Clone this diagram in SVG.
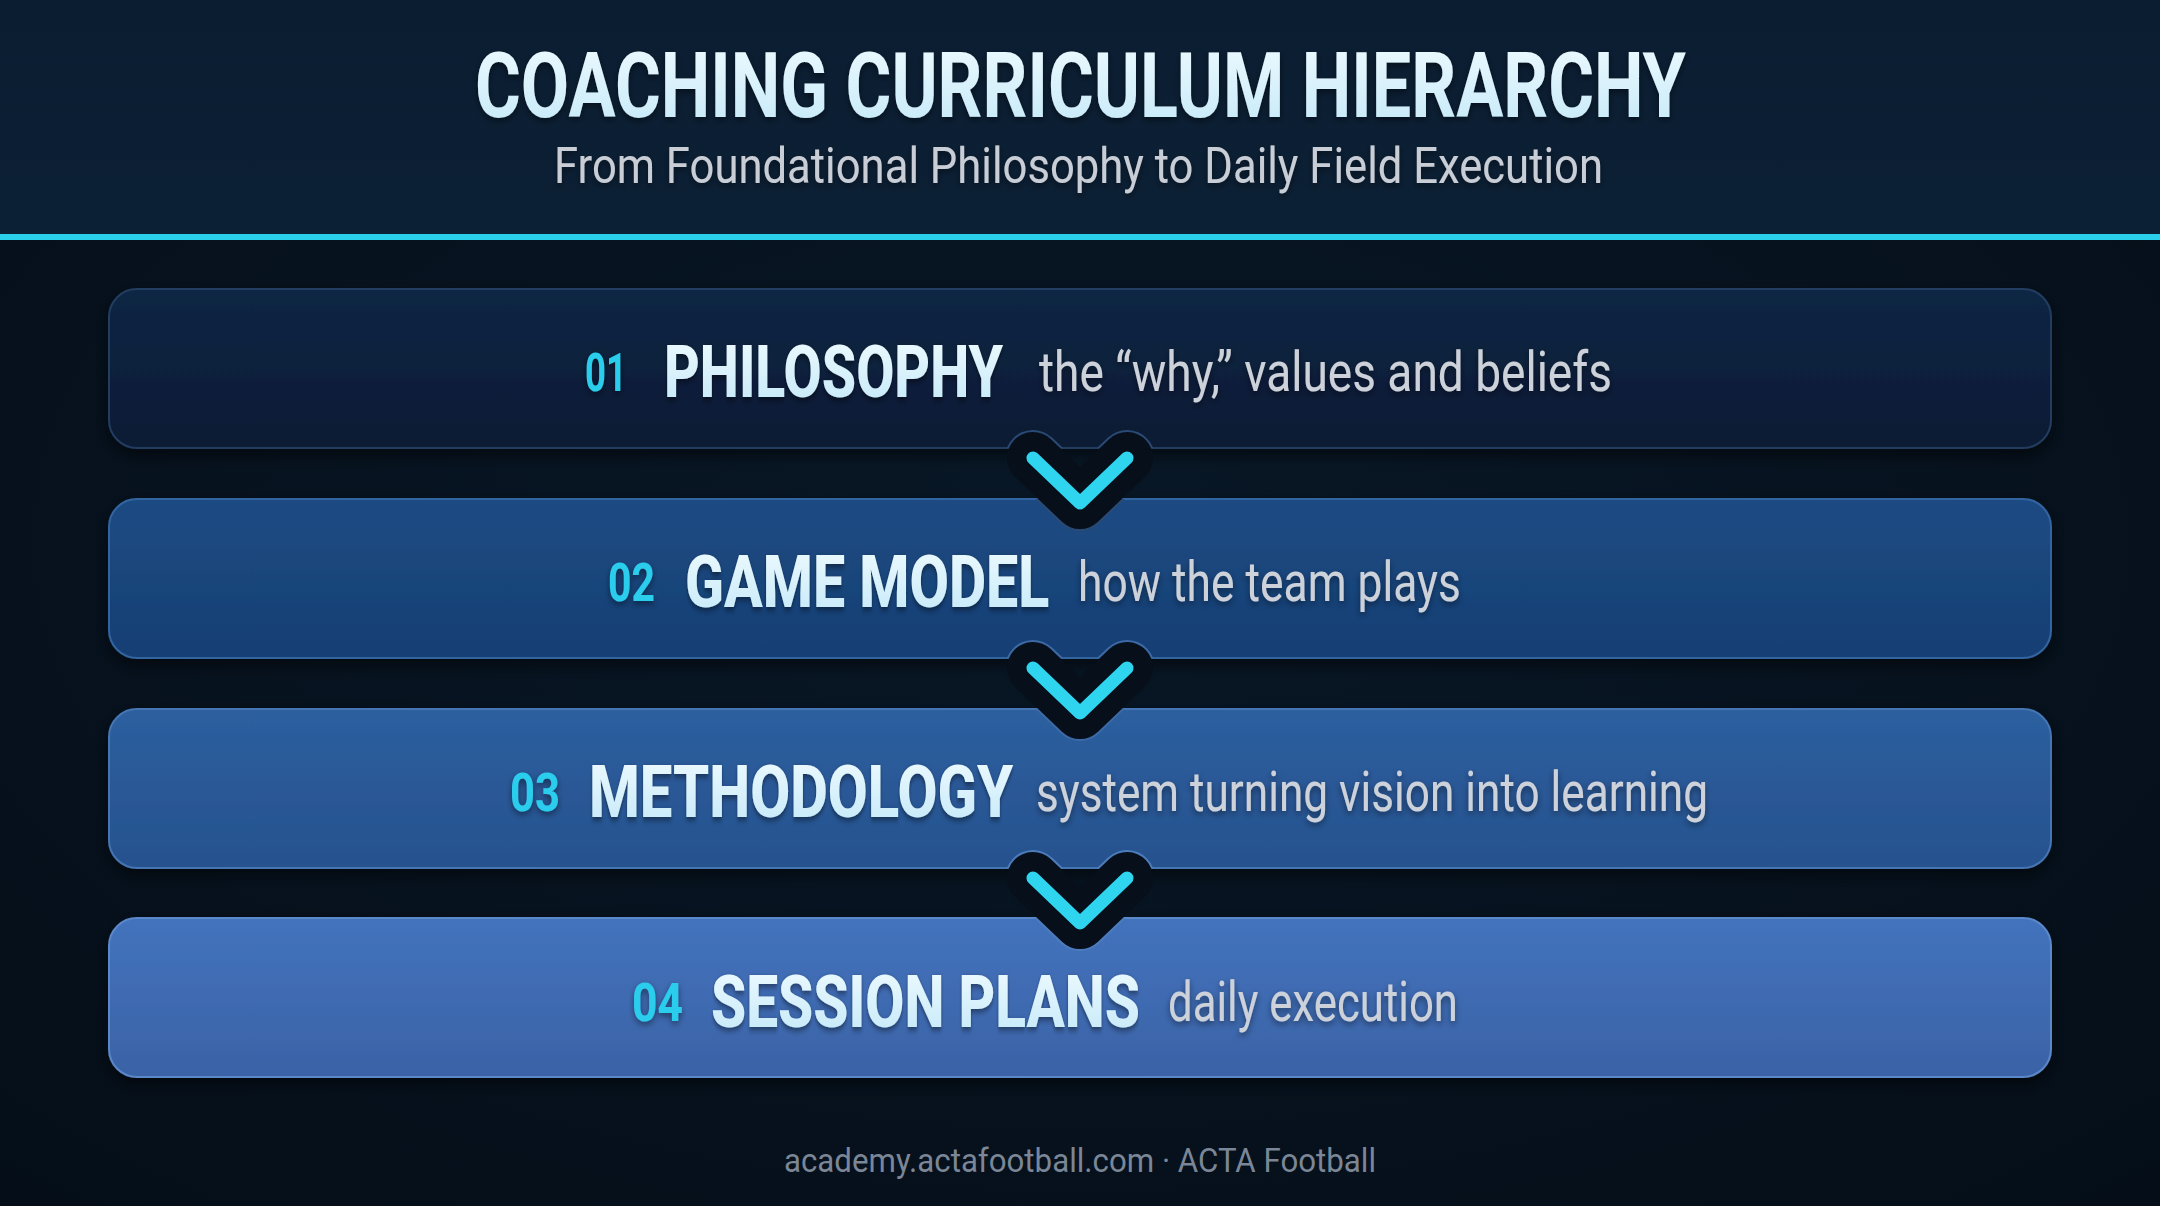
<svg xmlns="http://www.w3.org/2000/svg" width="2160" height="1206" viewBox="0 0 2160 1206">
  <defs>
    <linearGradient id="hdr" x1="0" y1="0" x2="0" y2="1">
      <stop offset="0" stop-color="#0b1d31"/>
      <stop offset="1" stop-color="#0c2035"/>
    </linearGradient>
    <radialGradient id="body" cx="0.5" cy="0.45" r="0.75">
      <stop offset="0" stop-color="#081726"/>
      <stop offset="1" stop-color="#050e18"/>
    </radialGradient>
    <linearGradient id="g1" x1="0" y1="0" x2="0" y2="1">
      <stop offset="0" stop-color="#0e2644"/>
      <stop offset="1" stop-color="#0b1a34"/>
    </linearGradient>
    <linearGradient id="g2" x1="0" y1="0" x2="0" y2="1">
      <stop offset="0" stop-color="#1c4b83"/>
      <stop offset="1" stop-color="#173f74"/>
    </linearGradient>
    <linearGradient id="g3" x1="0" y1="0" x2="0" y2="1">
      <stop offset="0" stop-color="#2d5f9f"/>
      <stop offset="1" stop-color="#26528e"/>
    </linearGradient>
    <linearGradient id="g4" x1="0" y1="0" x2="0" y2="1">
      <stop offset="0" stop-color="#4373bd"/>
      <stop offset="1" stop-color="#3a62a6"/>
    </linearGradient>
    <linearGradient id="lbl" x1="0" y1="0" x2="0" y2="1">
      <stop offset="0" stop-color="#f0fbff"/>
      <stop offset="1" stop-color="#c2e8f8"/>
    </linearGradient>
    <filter id="boxsh" x="-5%" y="-30%" width="110%" height="160%">
      <feDropShadow dx="0" dy="6" stdDeviation="8" flood-color="#000" flood-opacity="0.55"/>
    </filter>
    <filter id="txtsh" x="-5%" y="-30%" width="110%" height="160%">
      <feDropShadow dx="0" dy="3" stdDeviation="3" flood-color="#000" flood-opacity="0.45"/>
    </filter>
    <clipPath id="boxclip">
      <rect x="109" y="289" width="1942" height="159" rx="28"/>
      <rect x="109" y="499" width="1942" height="159" rx="28"/>
      <rect x="109" y="709" width="1942" height="159" rx="28"/>
      <rect x="109" y="918" width="1942" height="159" rx="28"/>
    </clipPath>
    <path id="chev" d="M1033,458 L1080,503 L1127,458"/>
  </defs>
  <style>
    text{font-family:Roboto,"Liberation Sans",sans-serif}
    .title{font-weight:700;font-size:91px;fill:url(#lbl)}
    .sub{font-weight:400;font-size:50px;fill:#c9ced6}
    .num{font-weight:700;font-size:54px;fill:#2ccdec}
    .lab{font-weight:800;font-size:72px;fill:url(#lbl)}
    .desc{font-weight:400;font-size:56px;fill:#cdd2da}
    .foot{font-weight:400;font-size:34px;fill:#7b8696}
    .halob{fill:none;stroke-width:56;stroke-linecap:round;stroke-linejoin:round}
    .halof{fill:none;stroke:#060f1a;stroke-width:52;stroke-linecap:round;stroke-linejoin:round}
    .chev{fill:none;stroke:#2fd4ee;stroke-width:13;stroke-linecap:round;stroke-linejoin:round}
  </style>

  <rect x="0" y="0" width="2160" height="1206" fill="url(#body)"/>
  <rect x="0" y="0" width="2160" height="234" fill="url(#hdr)"/>
  <rect x="0" y="234" width="2160" height="6" fill="#2ad0ea"/>

  <g id="header" filter="url(#txtsh)">
    <text class="title" x="475" y="117" textLength="1211" lengthAdjust="spacingAndGlyphs">COACHING CURRICULUM HIERARCHY</text>
    <text class="sub" x="554" y="183" textLength="1049" lengthAdjust="spacingAndGlyphs">From Foundational Philosophy to Daily Field Execution</text>
  </g>

  <g id="node-philosophy">
    <rect x="109" y="289" width="1942" height="159" rx="28" fill="url(#g1)" stroke="#223d60" stroke-width="2" filter="url(#boxsh)"/>
    <text class="num" x="585" y="391" textLength="42" lengthAdjust="spacingAndGlyphs" filter="url(#txtsh)">01</text>
    <text class="lab" transform="translate(664,397) scale(0.6,1)" textLength="565" lengthAdjust="spacingAndGlyphs" filter="url(#txtsh)">PHILOSOPHY</text>
    <text class="desc" x="1039" y="391" textLength="573" lengthAdjust="spacingAndGlyphs" filter="url(#txtsh)">the “why,” values and beliefs</text>
  </g>

  <g id="node-game-model">
    <rect x="109" y="499" width="1942" height="159" rx="28" fill="url(#g2)" stroke="#3265a0" stroke-width="2" filter="url(#boxsh)"/>
    <text class="num" x="608" y="601" textLength="47" lengthAdjust="spacingAndGlyphs" filter="url(#txtsh)">02</text>
    <text class="lab" transform="translate(685,607) scale(0.6,1)" textLength="607" lengthAdjust="spacingAndGlyphs" filter="url(#txtsh)">GAME MODEL</text>
    <text class="desc" x="1078" y="601" textLength="383" lengthAdjust="spacingAndGlyphs" filter="url(#txtsh)">how the team plays</text>
  </g>

  <g id="node-methodology">
    <rect x="109" y="709" width="1942" height="159" rx="28" fill="url(#g3)" stroke="#4474b2" stroke-width="2" filter="url(#boxsh)"/>
    <text class="num" x="510" y="811" textLength="50" lengthAdjust="spacingAndGlyphs" filter="url(#txtsh)">03</text>
    <text class="lab" transform="translate(589,817) scale(0.6,1)" textLength="707" lengthAdjust="spacingAndGlyphs" filter="url(#txtsh)">METHODOLOGY</text>
    <text class="desc" x="1036" y="811" textLength="672" lengthAdjust="spacingAndGlyphs" filter="url(#txtsh)">system turning vision into learning</text>
  </g>

  <g id="node-session-plans">
    <rect x="109" y="918" width="1942" height="159" rx="28" fill="url(#g4)" stroke="#5a88c8" stroke-width="2" filter="url(#boxsh)"/>
    <text class="num" x="632" y="1021" textLength="51" lengthAdjust="spacingAndGlyphs" filter="url(#txtsh)">04</text>
    <text class="lab" transform="translate(711,1027) scale(0.6,1)" textLength="715" lengthAdjust="spacingAndGlyphs" filter="url(#txtsh)">SESSION PLANS</text>
    <text class="desc" x="1168" y="1021" textLength="290" lengthAdjust="spacingAndGlyphs" filter="url(#txtsh)">daily execution</text>
  </g>

  <g id="connectors">
    <g clip-path="url(#boxclip)">
      <use href="#chev" class="halob" stroke="#2a4a74"/>
      <use href="#chev" class="halob" stroke="#3c6aa6" transform="translate(0,210)"/>
      <use href="#chev" class="halob" stroke="#4c7cbc" transform="translate(0,420)"/>
    </g>
    <use href="#chev" class="halof"/>
    <use href="#chev" class="halof" transform="translate(0,210)"/>
    <use href="#chev" class="halof" transform="translate(0,420)"/>
    <use href="#chev" class="chev"/>
    <use href="#chev" class="chev" transform="translate(0,210)"/>
    <use href="#chev" class="chev" transform="translate(0,420)"/>
  </g>

  <text id="footer" class="foot" x="784" y="1172" textLength="592" lengthAdjust="spacingAndGlyphs">academy.actafootball.com · ACTA Football</text>
</svg>
